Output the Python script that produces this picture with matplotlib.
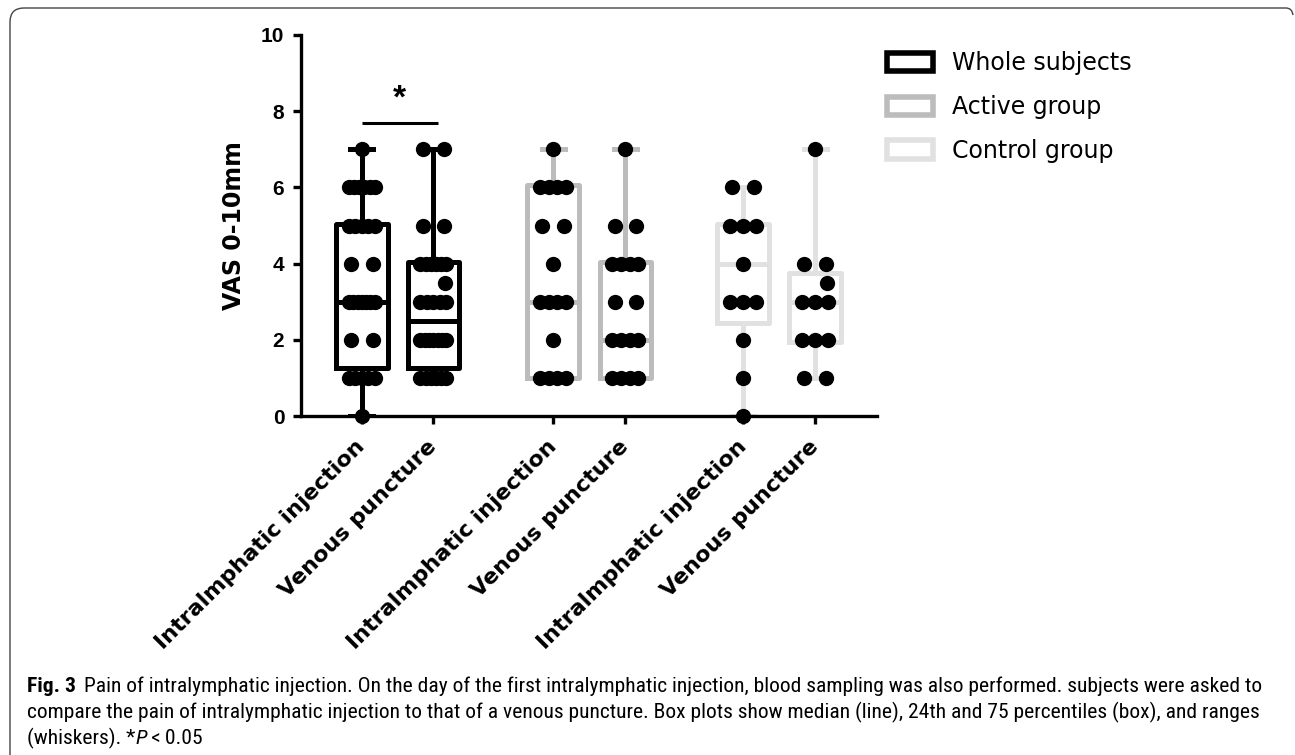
import matplotlib
matplotlib.use("Agg")
import matplotlib.pyplot as plt
from matplotlib.patches import Patch, PathPatch
from matplotlib.path import Path
from matplotlib import font_manager
import numpy as np

# ---------------- data ----------------
categories = ["Intralmphatic injection", "Venous puncture",
              "Intralmphatic injection", "Venous puncture",
              "Intralmphatic injection", "Venous puncture"]
groups = ["Whole subjects", "Active group", "Control group"]
group_colors = ["#000000", "#bcbcbc", "#e0e1e0"]

whole_il = [7, 6, 6, 6, 6, 6, 6, 5, 5, 5, 5, 5, 4, 4, 3, 3, 3, 3, 3, 3, 3, 2, 2, 1, 1, 1, 1, 1, 0]
whole_vp = [7, 7, 5, 5, 4, 4, 4, 4, 4, 4, 3.5, 3, 3, 3, 3, 3, 2, 2, 2, 2, 2, 2, 2, 1, 1, 1, 1, 1, 1]
active_il = [7, 6, 6, 6, 6, 5, 5, 4, 3, 3, 3, 3, 2, 1, 1, 1, 1]
active_vp = [7, 5, 5, 4, 4, 4, 4, 3, 3, 2, 2, 2, 2, 1, 1, 1, 1]
control_il = [6, 6, 5, 5, 5, 4, 3, 3, 3, 2, 1, 0]
control_vp = [7, 4, 4, 3.5, 3, 3, 3, 2, 2, 2, 1, 1]
series = [whole_il, whole_vp, active_il, active_vp, control_il, control_vp]

# box statistics
box_low = [0, 1, 1, 1, 0, 1]
box_q1 = [1.25, 1.25, 1.0, 1.0, 2.45, 1.95]
box_med = [3, 2.5, 3, 2, 4, 3]
box_q3 = [5.05, 4.05, 6.05, 4.05, 5.05, 3.75]
box_high = [7, 7, 7, 7, 6, 7]
box_group = [0, 0, 1, 1, 2, 2]

yticks = [0, 2, 4, 6, 8, 10]
ylabel = "VAS 0-10mm"
sig_text = "*"

# ---------------- fonts ----------------
def pick(fams):
    for f in fams:
        try:
            font_manager.findfont(font_manager.FontProperties(family=f), fallback_to_default=False)
            return f
        except Exception:
            pass
    return "DejaVu Sans"

main_font = pick(["Liberation Sans", "Arial", "DejaVu Sans"])
cap_font = pick(["Roboto Condensed", "Liberation Sans Narrow", "Roboto", "Open Sans", "DejaVu Sans"])
wide_font = "DejaVu Sans"
plt.rcParams["font.family"] = [main_font, "DejaVu Sans"]

W, H = 1295, 755
fig = plt.figure(figsize=(W / 100, H / 100), dpi=100)
fig.patch.set_facecolor("white")

ax_l, ax_r, ax_b, ax_t = 301, 877, 416, 35
ax = fig.add_axes([ax_l / W, 1 - ax_b / H, (ax_r - ax_l) / W, (ax_b - ax_t) / H])

positions = [1, 2, 3.68, 4.69, 6.34, 7.35]
ax.set_xlim(0.147, 8.217)
ax.set_ylim(0, 10)

# boxes
stats = []
for i in range(6):
    stats.append(dict(whislo=box_low[i], q1=box_q1[i], med=box_med[i],
                      q3=box_q3[i], whishi=box_high[i], fliers=[]))
for i in range(6):
    c = group_colors[box_group[i]]
    lw = 3.6
    ax.bxp([stats[i]], positions=[positions[i]], widths=0.72, capwidths=0.32,
           showfliers=False, patch_artist=False,
           boxprops=dict(color=c, linewidth=lw),
           whiskerprops=dict(color=c, linewidth=lw),
           capprops=dict(color=c, linewidth=lw),
           medianprops=dict(color=c, linewidth=lw),
           manage_ticks=False, zorder=2)

# points
def offsets(vals):
    vals = np.asarray(vals, dtype=float)
    off = np.zeros_like(vals)
    for v in np.unique(vals):
        idx = np.where(vals == v)[0]
        n = len(idx)
        if v != int(v):
            off[idx] = 0.17
        elif n == 2:
            off[idx] = [-0.15, 0.15]
        elif n >= 3:
            off[idx] = np.linspace(-0.18, 0.18, n)
    return off

for i, vals in enumerate(series):
    off = offsets(vals)
    ax.plot(positions[i] + off, vals, "o", color="black", markersize=11,
            markeredgewidth=0, clip_on=False, zorder=4)

# significance
ax.plot([positions[0], positions[1] + 0.06], [7.68, 7.68], color="black", lw=2.2,
        solid_capstyle="butt", clip_on=False)
ax.text((positions[0] + positions[1]) / 2 + 0.03, 8.33, sig_text, ha="center", va="center",
        fontsize=24, fontweight="bold")

# axes styling
for s in ["top", "right"]:
    ax.spines[s].set_visible(False)
for s in ["left", "bottom"]:
    ax.spines[s].set_linewidth(2.4)
ax.set_yticks(yticks)
ax.set_yticklabels([str(t) for t in yticks], fontsize=15, fontweight="bold")
ax.tick_params(axis="both", length=6, width=2.4, direction="out", pad=6)
ax.set_xticks(positions)
ax.set_xticklabels(categories, rotation=45, ha="right", va="center",
                   rotation_mode="anchor", fontsize=16, fontweight="bold",
                   family=[wide_font])
ax.tick_params(axis="x", pad=14)
ax.set_ylabel(ylabel, fontsize=17, fontweight="bold", labelpad=11, family=[wide_font])

# legend
handles = [Patch(facecolor="white", edgecolor=c, linewidth=4.0) for c in group_colors]
fig.legend(handles, groups, loc="upper left", bbox_to_anchor=(878 / W, 1 - 42 / H),
           frameon=False, prop=dict(family=wide_font, size=17), handlelength=1.95,
           handleheight=0.82, labelspacing=0.83, handletextpad=0.8, borderaxespad=0)

# frame (rounded top-left corner, slight curl top-right)
fx = lambda x: x / W
fy = lambda y: 1 - y / H
verts = [(fx(10), fy(755)), (fx(10), fy(22)), (fx(10), fy(8)), (fx(24), fy(8)),
         (fx(1286), fy(8)), (fx(1292), fy(8)), (fx(1293), fy(15))]
codes = [Path.MOVETO, Path.LINETO, Path.CURVE3, Path.CURVE3, Path.LINETO, Path.CURVE3, Path.CURVE3]
fig.add_artist(PathPatch(Path(verts, codes), facecolor="none", edgecolor="#444444",
                         lw=1.0, transform=fig.transFigure))

# caption
line1 = ("Pain of intralymphatic injection. On the day of the first intralymphatic "
         "injection, blood sampling was also performed. subjects were asked to")
line2 = ("compare the pain of intralymphatic injection to that of a venous puncture. "
         "Box plots show median (line), 24th and 75 percentiles (box), and ranges")
fig.canvas.draw()
r = fig.canvas.get_renderer()

# fit caption size so that line 1 spans the reference width
cap_fs = 14.0
probe = fig.text(0, 0, "Fig. 3", fontsize=cap_fs, fontweight="bold", family=[cap_font])
probe2 = fig.text(0, 0, line1, fontsize=cap_fs, family=[cap_font])
wtot = probe.get_window_extent(r).width + 8 + probe2.get_window_extent(r).width
probe.remove(); probe2.remove()
cap_fs = cap_fs * (1268 - 27) / wtot


def chain(x, y, parts):
    for txt, kw in parts:
        t = fig.text(x / W, 1 - y / H, txt, fontsize=cap_fs, va="baseline",
                     family=[cap_font, "DejaVu Sans"], **kw)
        bb = t.get_window_extent(r)
        x = bb.x1
    return x

y1, y2, y3 = 692, 718, 744
x_end = chain(27, y1, [("Fig. 3", dict(fontweight="bold"))])
chain(x_end + 8, y1, [(line1, {})])
chain(27, y2, [(line2, {})])
chain(27, y3, [("(whiskers). *", {}), ("P", dict(style="italic")), ("\u2009<\u20090.05", {})])

fig.savefig("out.png", dpi=100, facecolor="white")
